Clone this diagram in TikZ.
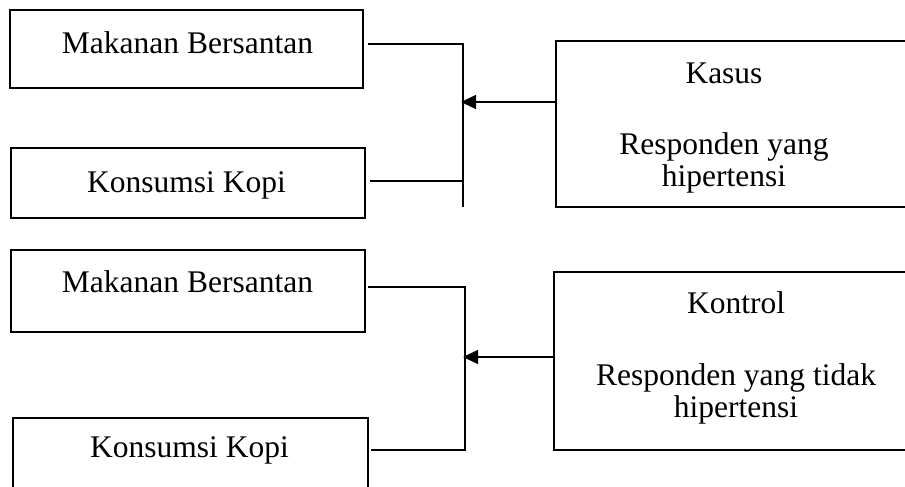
\documentclass[tikz,border=0pt]{standalone}
\usepackage{fontspec}
\setmainfont{Liberation Serif}
\usetikzlibrary{arrows.meta}
\begin{document}
\begin{tikzpicture}[x=1pt,y=-1pt,
  box/.style={draw=black, line width=1.7pt, rectangle, inner sep=0pt},
  txt/.style={inner sep=0pt, align=center, font=\fontsize{31.5}{32}\selectfont},
  conn/.style={draw=black, line width=1.4pt},
  arr/.style={draw=black, line width=1.4pt, -{Triangle[length=15pt,width=14pt]}}]
\path[use as bounding box] (0,0) rectangle (905,487);
\clip (0,0) rectangle (905,487);
% top group
\node[box, minimum width=353pt, minimum height=78pt] (m1) at (186.5,49) {};
\node[txt] (m1t) at (187.5,43) {Makanan Bersantan};
\node[box, minimum width=354pt, minimum height=70pt] (k1) at (188,183) {};
\node[txt] (k1t) at (186.5,185) {Konsumsi Kopi};
\node[box, minimum width=370pt, minimum height=166pt] (kasus) at (741,124) {};
\node[txt] (kasust) at (724,73) {Kasus};
\node[txt] (kasusr) at (724,163) {Responden yang\\hipertensi};
\coordinate (m1o) at (368,44);
\coordinate (k1o) at (370,181);
\coordinate (j1a) at (463,44);
\coordinate (j1b) at (463,181);
\coordinate (j1c) at (463,207);
\coordinate (a1s) at (556,102);
\coordinate (a1e) at (461,102);
\draw[conn] (m1o) -- (j1a) -- (j1c);
\draw[conn] (k1o) -- (j1b);
\draw[arr] (a1s) -- (a1e);
% bottom group
\node[box, minimum width=354pt, minimum height=82pt] (m2) at (188,291) {};
\node[txt] (m2t) at (187.5,282) {Makanan Bersantan};
\node[box, minimum width=355pt, minimum height=100pt] (k2) at (190.5,468) {};
\node[txt] (k2t) at (189.5,450) {Konsumsi Kopi};
\node[box, minimum width=370pt, minimum height=178pt] (kontrol) at (739,361) {};
\node[txt] (kontrolt) at (736,303) {Kontrol};
\node[txt] (kontrolr) at (736,394) {Responden yang tidak\\hipertensi};
\coordinate (m2o) at (368,287);
\coordinate (k2o) at (371,450);
\coordinate (j2a) at (465,287);
\coordinate (j2b) at (465,450);
\coordinate (a2s) at (554,357);
\coordinate (a2e) at (463,357);
\draw[conn] (m2o) -- (j2a) -- (j2b) -- (k2o);
\draw[arr] (a2s) -- (a2e);
\end{tikzpicture}
\end{document}
